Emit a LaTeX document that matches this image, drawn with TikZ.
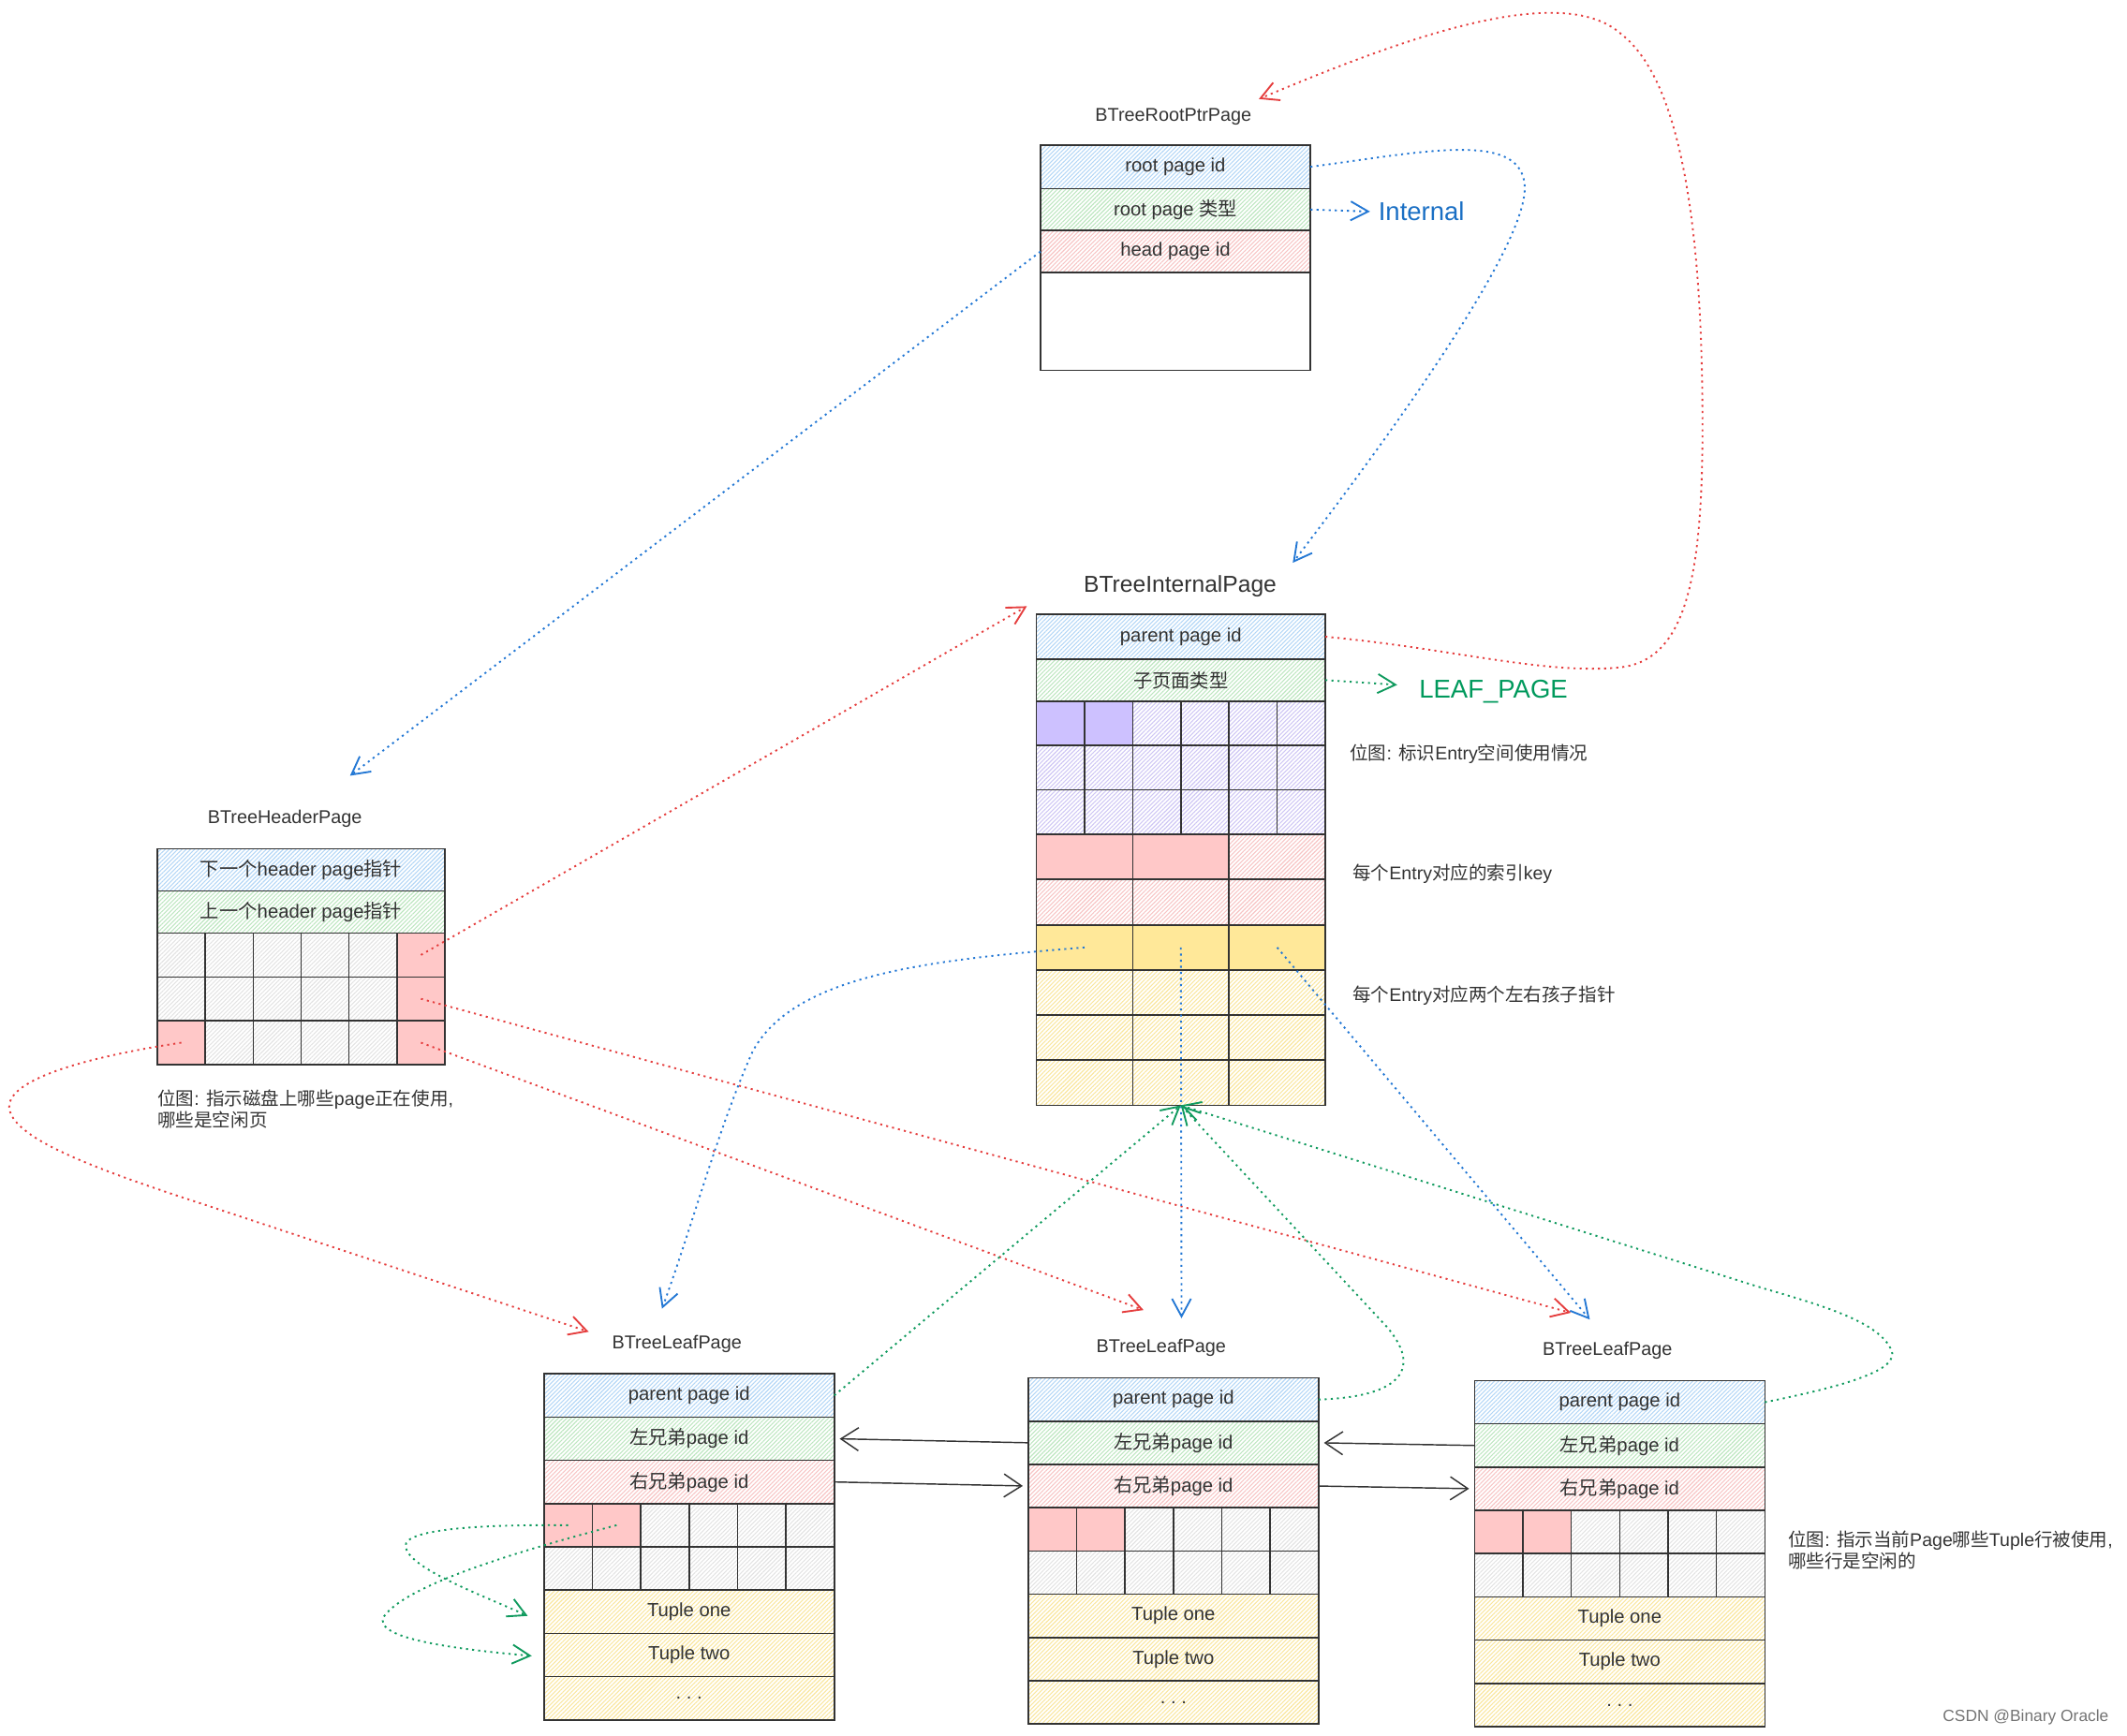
\documentclass[tikz,border=0pt]{standalone}
\usepackage{fontspec}
\setmainfont{Liberation Sans}
\newfontfamily\cjk{Noto Sans CJK SC}
\usetikzlibrary{arrows.meta,calc,patterns.meta}
\definecolor{Edge}{HTML}{333333}
\definecolor{Ink}{HTML}{333333}
\definecolor{BlueHatch}{HTML}{B3D6F6}
\definecolor{GreenHatch}{HTML}{BDE6C0}
\definecolor{PinkHatch}{HTML}{F7C4C4}
\definecolor{GrayHatch}{HTML}{E3E3E3}
\definecolor{PurpleHatch}{HTML}{CEC6F4}
\definecolor{YellowHatch}{HTML}{F9E69E}
\definecolor{PinkSolid}{HTML}{FFC8C8}
\definecolor{PurpleSolid}{HTML}{CDC1FF}
\definecolor{YellowSolid}{HTML}{FFE899}
\definecolor{RedLink}{HTML}{E53E3E}
\definecolor{BlueLink}{HTML}{2478D4}
\definecolor{GreenLink}{HTML}{109A5E}
\definecolor{BlueText}{HTML}{1A6FC4}
\definecolor{GreenText}{HTML}{00995C}
\newcommand\zh[1]{{\cjk #1}}
\newcommand\lbl{\fontsize{14}{17}\selectfont}
\newcommand\notesize{\fontsize{13.5}{16}\selectfont}

\tikzset{
  pagecell/.style={draw=Edge,line width=1.1pt,anchor=north west,inner sep=0pt,outer sep=0pt,text=Ink,font=\lbl},
  hatchcell/.style={pagecell,pattern={Lines[angle=45,distance=2.2pt,line width=.75pt]},pattern color=#1},
  fillcell/.style={pagecell,fill=#1},
  pagetitle/.style={text=Ink,font=\fontsize{13.7}{16}\selectfont},
  sidenote/.style={text=Ink,font=\notesize,anchor=west,align=left,inner sep=0pt},
  dotlink/.style={line width=1.3pt,dash pattern=on 1.5pt off 3pt,-{Straight Barb[length=13pt,width=14pt]}},
  redlink/.style={dotlink,draw=RedLink},
  bluelink/.style={dotlink,draw=BlueLink},
  greenlink/.style={dotlink,draw=GreenLink},
  siblink/.style={draw=Edge,line width=1pt,shorten >=4pt,-{Straight Barb[length=13pt,width=17pt]}}
}

\begin{document}
\begin{tikzpicture}[x=1pt,y=-1pt]
  \useasboundingbox (0,0) rectangle (1568,1280);

  % root pointer page
  \node[pagetitle] (rpt) at (865,86) {BTreeRootPtrPage};
  \node[hatchcell=BlueHatch,minimum width=199pt,minimum height=32pt] (rp1) at (767,107) {root page id};
  \node[hatchcell=GreenHatch,minimum width=199pt,minimum height=31pt] (rp2) at (767,139) {root page \zh{类型}};
  \node[hatchcell=PinkHatch,minimum width=199pt,minimum height=31pt] (rp3) at (767,170) {head page id};
  \node[pagecell,minimum width=199pt,minimum height=72pt] (rp4) at (767,201) {};
  \node[anchor=west,inner sep=0pt,text=BlueText,font=\fontsize{19}{22}\selectfont] (intl) at (1016,156) {Internal};

  % internal page
  \node[pagetitle,font=\fontsize{17}{20}\selectfont] (ipt) at (870,432) {BTreeInternalPage};
  \node[hatchcell=BlueHatch,minimum width=213pt,minimum height=33pt] (ip1) at (764,453) {parent page id};
  \node[hatchcell=GreenHatch,minimum width=213pt,minimum height=31pt] (ip2) at (764,486) {\zh{子页面类型}};
  \foreach \r in {1,2,3}{
    \foreach \c in {1,...,6}{
      \node[hatchcell=PurpleHatch,minimum width=35.5pt,minimum height=32.67pt] (ib-\r-\c) at ({764+(\c-1)*35.5},{517+(\r-1)*32.67}) {};}}
  \foreach \c in {1,2}
    \node[fillcell=PurpleSolid,minimum width=35.5pt,minimum height=32.67pt] at (ib-1-\c.north west) {};
  \foreach \r in {1,2}{
    \foreach \c in {1,2,3}{
      \node[hatchcell=PinkHatch,minimum width=71pt,minimum height=33.5pt] (ik-\r-\c) at ({764+(\c-1)*71},{615+(\r-1)*33.5}) {};}}
  \foreach \c in {1,2}
    \node[fillcell=PinkSolid,minimum width=71pt,minimum height=33.5pt] at (ik-1-\c.north west) {};
  \foreach \r in {1,...,4}{
    \foreach \c in {1,2,3}{
      \ifnum\r=1\node[fillcell=YellowSolid,minimum width=71pt,minimum height=33.25pt] (ic-\r-\c) at ({764+(\c-1)*71},{682+(\r-1)*33.25}) {};
      \else\node[hatchcell=YellowHatch,minimum width=71pt,minimum height=33.25pt] (ic-\r-\c) at ({764+(\c-1)*71},{682+(\r-1)*33.25}) {};\fi}}
  \node[anchor=west,inner sep=0pt,text=GreenText,font=\fontsize{19}{22}\selectfont] (leaftag) at (1046,510) {LEAF\_PAGE};
  \node[sidenote] (ibnote) at (995,556) {\zh{位图}: \zh{标识}Entry\zh{空间使用情况}};
  \node[sidenote] (iknote) at (997,644) {\zh{每个}Entry\zh{对应的索引}key};
  \node[sidenote] (icnote) at (997,734) {\zh{每个}Entry\zh{对应两个左右孩子指针}};

  % header page
  \node[pagetitle] (hpt) at (210,604) {BTreeHeaderPage};
  \node[hatchcell=BlueHatch,minimum width=212pt,minimum height=31pt] (hp1) at (116,626) {\zh{下一个}header page\zh{指针}};
  \node[hatchcell=GreenHatch,minimum width=212pt,minimum height=31pt] (hp2) at (116,657) {\zh{上一个}header page\zh{指针}};
  \foreach \r in {1,2,3}{
    \foreach \c in {1,...,6}{
      \node[hatchcell=GrayHatch,minimum width=35.33pt,minimum height=32.33pt] (hb-\r-\c) at ({116+(\c-1)*35.33},{688+(\r-1)*32.33}) {};}}
  \foreach \r/\c in {1/6,2/6,3/6,3/1}
    \node[fillcell=PinkSolid,minimum width=35.33pt,minimum height=32.33pt] at (hb-\r-\c.north west) {};
  \node[sidenote] (hbnote) at (116,818) {\zh{位图}: \zh{指示磁盘上哪些}page\zh{正在使用},\\\zh{哪些是空闲页}};

  % leaf pages
  \foreach \n/\lx/\ly in {1/401/1013,2/758/1016,3/1087/1018}{
    \node[pagetitle] (l\n-title) at (\lx+98,\ly-22) {BTreeLeafPage};
    \node[hatchcell=BlueHatch,minimum width=214pt,minimum height=31.9pt] (l\n-parent) at (\lx,\ly) {parent page id};
    \node[hatchcell=GreenHatch,minimum width=214pt,minimum height=31.9pt] (l\n-left) at (\lx,\ly+31.9) {\zh{左兄弟}page id};
    \node[hatchcell=PinkHatch,minimum width=214pt,minimum height=31.9pt] (l\n-right) at (\lx,\ly+63.8) {\zh{右兄弟}page id};
    \foreach \r in {1,2}{
      \foreach \c in {1,...,6}{
        \node[hatchcell=GrayHatch,minimum width=35.67pt,minimum height=31.9pt] (l\n-b-\r-\c) at ({\lx+(\c-1)*35.67},{\ly+95.7+(\r-1)*31.9}) {};}}
    \foreach \c in {1,2}
      \node[fillcell=PinkSolid,minimum width=35.67pt,minimum height=31.9pt] at (l\n-b-1-\c.north west) {};
    \node[hatchcell=YellowHatch,minimum width=214pt,minimum height=31.9pt] (l\n-t1) at (\lx,\ly+159.5) {Tuple one};
    \node[hatchcell=YellowHatch,minimum width=214pt,minimum height=31.9pt] (l\n-t2) at (\lx,\ly+191.4) {Tuple two};
    \node[hatchcell=YellowHatch,minimum width=214pt,minimum height=31.9pt] (l\n-t3) at (\lx,\ly+223.3) {.\ .\ .};}
  \node[sidenote] (lbnote) at (1318,1143) {\zh{位图}: \zh{指示当前}Page\zh{哪些}Tuple\zh{行被使用},\\\zh{哪些行是空闲的}};
  \node[anchor=east,text=black!55,font=\fontsize{12}{14}\selectfont] (mark) at (1558,1266) {CSDN @Binary Oracle};

  % free ends of the links
  \coordinate (rootIn) at (928,73);
  \coordinate (internalIn) at (953,415);
  \coordinate (internalSide) at (757,447);
  \coordinate (headerIn) at (258,572);
  \coordinate (internalTag) at (1010,156);
  \coordinate (leafTag) at (1030,505);
  \coordinate (leafOneIn) at (434,982);
  \coordinate (leafTwoIn) at (843,966);
  \coordinate (leafThreeIn) at (1158,968);
  \coordinate (leafOneUp) at (488,965);
  \coordinate (leafTwoUp) at (871,972);
  \coordinate (leafThreeUp) at (1172,973);
  \coordinate (tupleOneIn) at (389,1191.5);
  \coordinate (tupleTwoIn) at (392,1221);

  % links
  \draw[bluelink] (rp2.east) -- (internalTag);
  \draw[greenlink] (ip2.east) -- (leafTag);
  \draw[redlink] (ip1.east) .. controls (1070,478) and (1140,498) .. (1195,492)
    .. controls (1245,486) and (1256,420) .. (1255,300)
    .. controls (1254,170) and (1240,60) .. (1195,25)
    .. controls (1150,-15) and (1030,30) .. (rootIn);
  \draw[bluelink] (rp1.east) .. controls (1050,112) and (1125,95) .. (1124,140)
    .. controls (1122,190) and (1010,340) .. (internalIn);
  \draw[bluelink] (rp3.west) -- (headerIn);
  \draw[redlink] (hb-1-6.center) -- (internalSide);
  \draw[redlink] (hb-2-6.center) -- (leafThreeIn);
  \draw[redlink] (hb-3-6.center) -- (leafTwoIn);
  \draw[redlink] (hb-3-1.center) .. controls (60,780) and (3,797) .. (7,818)
    .. controls (11,840) and (70,862) .. (150,888) -- (leafOneIn);
  \draw[bluelink] (ic-1-1.center) .. controls (680,708) and (585,720) .. (555,775)
    .. controls (530,830) and (510,905) .. (leafOneUp);
  \draw[bluelink] (ic-1-2.center) -- (leafTwoUp);
  \draw[bluelink] (ic-1-3.center) -- (leafThreeUp);
  \draw[greenlink] (l1-parent.east) -- (ic-4-2.south);
  \draw[greenlink] (l2-parent.east) .. controls (1035,1030) and (1048,1008) .. (1022,978) -- (ic-4-2.south);
  \draw[greenlink] (l3-parent.east) .. controls (1360,1022) and (1402,1010) .. (1394,995)
    .. controls (1385,975) and (1345,963) .. (1300,950) -- (ic-4-2.south);
  \draw[greenlink] (l1-b-1-1.center) .. controls (350,1124) and (298,1128) .. (299,1140)
    .. controls (300,1156) and (355,1176) .. (tupleOneIn);
  \draw[greenlink] (l1-b-1-2.center) .. controls (385,1143) and (300,1168) .. (283,1192)
    .. controls (274,1208) and (335,1216) .. (tupleTwoIn);
  \draw[siblink] (l2-left.west) -- (l1-left.east);
  \draw[siblink] (l1-right.east) -- (l2-right.west);
  \draw[siblink] (l3-left.west) -- (l2-left.east);
  \draw[siblink] (l2-right.east) -- (l3-right.west);
\end{tikzpicture}
\end{document}
